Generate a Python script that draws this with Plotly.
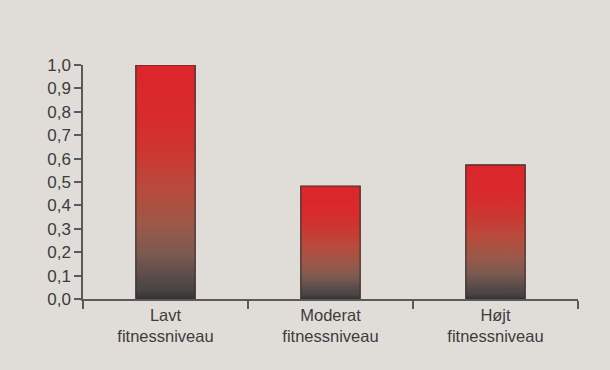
import plotly.graph_objects as go

# Fitness level groups and their relative values
categories = ["Lavt<br>fitnessniveau", "Moderat<br>fitnessniveau", "Højt<br>fitnessniveau"]
values = [1.0, 0.483, 0.573]
y_ticks = [0.0, 0.1, 0.2, 0.3, 0.4, 0.5, 0.6, 0.7, 0.8, 0.9, 1.0]

BG = "#e0ddd8"
AXIS = "#5a5a5a"
TEXT = "#3c3c3c"
BAR_W = 0.36

# Dark base fading up into red, stretched over each bar's own height
gradient = [
    [0.00, "#3a3234"],
    [0.04, "#484644"],
    [0.10, "#5c4c4a"],
    [0.19, "#7a5a50"],
    [0.32, "#9c5848"],
    [0.47, "#b94a3c"],
    [0.64, "#cd3530"],
    [0.78, "#d82a2c"],
    [1.00, "#dc262b"],
]

fig = go.Figure()
for i, v in enumerate(values):
    x0, x1 = i - BAR_W / 2, i + BAR_W / 2
    fig.add_trace(go.Scatter(
        x=[x0, x1, x1, x0, x0],
        y=[0, 0, v, v, 0],
        mode="lines",
        fill="toself",
        fillgradient=dict(type="vertical", colorscale=gradient, start=0, stop=v),
        line=dict(color="#3a2a2a", width=1.2),
        cliponaxis=False,
        hoverinfo="skip",
        showlegend=False,
    ))

fig.update_layout(
    width=610,
    height=370,
    margin=dict(l=83, r=32, t=65, b=71),
    paper_bgcolor=BG,
    plot_bgcolor=BG,
    separators=",.",
    font=dict(family="Liberation Sans, Arial, sans-serif", size=17, color=TEXT),
    showlegend=False,
)

fig.update_xaxes(
    range=[-0.5, 2.5],
    tickmode="array",
    tickvals=list(range(len(categories))),
    ticktext=categories,
    ticks="",
    minor=dict(tick0=-0.5, dtick=1, ticks="outside", ticklen=8,
               tickcolor=AXIS, tickwidth=1.5),
    showline=True,
    linecolor=AXIS,
    linewidth=1.5,
    showgrid=False,
    zeroline=False,
    tickfont=dict(size=16.5, color=TEXT),
    fixedrange=True,
)

fig.update_yaxes(
    range=[0, 1.0],
    tickmode="array",
    tickvals=y_ticks,
    tickformat=".1f",
    ticks="outside",
    ticklen=7,
    tickcolor=AXIS,
    tickwidth=1.5,
    showline=True,
    linecolor=AXIS,
    linewidth=1.5,
    showgrid=False,
    zeroline=False,
    tickfont=dict(size=17, color=TEXT),
    fixedrange=True,
)

fig.write_html("out.html")
